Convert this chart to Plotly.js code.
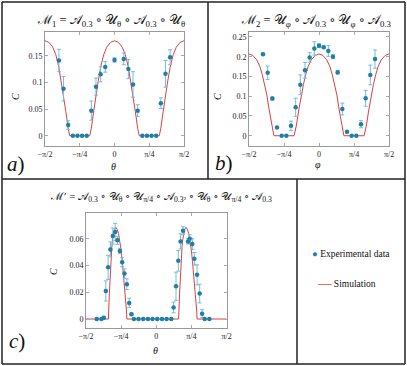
<!DOCTYPE html>
<html>
<head>
<meta charset="utf-8">
<script src="https://cdn.plot.ly/plotly-3.0.1.min.js"></script>
<style>
  body { margin: 0; background: white; }
  #chart { width: 407px; height: 366px; }
</style>
</head>
<body>
<div id="chart"></div>
<script>
// panel a) experimental data (theta in degrees)
var expA_theta = [-72, -66, -60, -54, -48, -42, -36, -30, -24, -18, -12, 0, 12, 18, 24, 30, 36, 42, 48, 54, 60, 66, 72];
var expA_C = [0.141, 0.088, 0.020, 0, 0, 0, 0, 0.047, 0.092, 0.115, 0.129, 0.142, 0.144, 0.125, 0.096, 0.047, 0, 0, 0, 0, 0.061, 0.116, 0.147];
var expA_err = [0.021, 0.023, 0.008, 0, 0, 0, 0, 0.018, 0.016, 0.014, 0.010, 0.004, 0.011, 0.018, 0.024, 0.011, 0, 0, 0, 0, 0.010, 0.025, 0.014];

// panel a) simulation
var simA_theta = [-90, -85, -80, -76, -72, -69, -66, -63, -60, -58, -32, -30, -27, -24, -21, -18, -14, -10, -5, 0, 5, 10, 14, 18, 21, 24, 27, 30, 32, 58, 60, 63, 66, 69, 72, 76, 80, 85, 90];
var simA_C = [0.178, 0.175, 0.166, 0.152, 0.128, 0.103, 0.077, 0.045, 0.014, 0, 0, 0.014, 0.045, 0.077, 0.103, 0.128, 0.152, 0.166, 0.175, 0.178, 0.175, 0.166, 0.152, 0.128, 0.103, 0.077, 0.045, 0.014, 0, 0, 0.014, 0.045, 0.077, 0.103, 0.128, 0.152, 0.166, 0.175, 0.178];

// panel b) experimental data (phi in degrees)
var expB_phi = [-72, -66, -60, -54, -48, -42, -36, -30, -24, -18, -12, -6, 0, 6, 12, 18, 24, 30, 36, 42, 48, 54, 60, 66, 72];
var expB_C = [0.206, 0.1595, 0.094, 0.021, 0, 0, 0.025, 0.072, 0.129, 0.1655, 0.198, 0.221, 0.228, 0.224, 0.2145, 0.2, 0.1605, 0.0676, 0.01, 0, 0, 0.029, 0.0947, 0.1537, 0.194];
var expB_err = [0.003, 0.017, 0.004, 0.002, 0, 0, 0.012, 0.023, 0.025, 0.02, 0.012, 0.017, 0.005, 0.003, 0.0135, 0.005, 0.005, 0.015, 0.003, 0, 0, 0.009, 0.02, 0.025, 0.023];

// panel b) simulation
var simB_phi = [-90, -85, -80, -76, -73, -70, -67, -64, -61, -58, -32, -29, -26, -23, -20, -17, -14, -10, -5, 0, 5, 10, 14, 17, 20, 23, 26, 29, 32, 58, 61, 64, 67, 70, 73, 76, 80, 85, 90];
var simB_C = [0.207, 0.203, 0.192, 0.175, 0.155, 0.13, 0.103, 0.065, 0.027, 0, 0, 0.027, 0.065, 0.103, 0.13, 0.155, 0.175, 0.192, 0.203, 0.207, 0.203, 0.192, 0.175, 0.155, 0.13, 0.103, 0.065, 0.027, 0, 0, 0.027, 0.065, 0.103, 0.13, 0.155, 0.175, 0.192, 0.203, 0.207];

// panel c) experimental data (theta in radians)
var expC_theta = [-1.33, -1.226, -1.173, -1.128, -1.076, -1.025, -0.971, -0.919, -0.868, -0.814, -0.762, -0.711, -0.657, -0.605, -0.554, -0.5,
  -0.397, -0.291, -0.186, -0.083, 0.022, 0.128, 0.231, 0.336,
  0.388, 0.442, 0.493, 0.545, 0.599, 0.711, 0.747, 0.807, 0.852, 0.913, 0.971, 1.025, 1.083, 1.188];
var expC_C = [0, 0, 0.001, 0.021, 0.0386, 0.052, 0.062, 0.065, 0.0588, 0.0508, 0.0424, 0.034, 0.026, 0.012, 0.0035, 0,
  0, 0, 0, 0, 0, 0, 0, 0,
  0.0087, 0.0245, 0.0435, 0.058, 0.066, 0.058, 0.060, 0.056, 0.045, 0.033, 0.019, 0.004, 0, 0];
var expC_err = [0, 0, 0.001, 0.0075, 0.009, 0.0056, 0.006, 0.0065, 0.003, 0.002, 0.0034, 0.0034, 0.004, 0.0035, 0.001, 0,
  0, 0, 0, 0, 0, 0, 0, 0,
  0.004, 0.0105, 0.0077, 0.0056, 0.003, 0.002, 0.003, 0.004, 0.0047, 0.0075, 0.007, 0.003, 0, 0];

// panel c) simulation
var simC_theta = [-1.571, -1.07, -1.05, -1.031, -1.012, -0.993, -0.975, -0.957, -0.93, -0.904, -0.875, -0.845, -0.815, -0.785, -0.76, -0.733, -0.706, -0.679, -0.665, -0.657,
  0.5, 0.52, 0.539, 0.558, 0.577, 0.595, 0.613, 0.64, 0.666, 0.695, 0.725, 0.755, 0.785, 0.81, 0.837, 0.864, 0.891, 0.905, 0.913, 1.571];
var simC_C = [0, 0, 0.018, 0.032, 0.045, 0.054, 0.06, 0.064, 0.067, 0.0685, 0.067, 0.064, 0.058, 0.0516, 0.043, 0.034, 0.024, 0.014, 0.006, 0,
  0, 0.018, 0.032, 0.045, 0.054, 0.06, 0.064, 0.067, 0.0685, 0.067, 0.064, 0.058, 0.0516, 0.043, 0.034, 0.024, 0.014, 0.006, 0, 0];

// tick labels
var xTickVals = [-Math.PI / 2, -Math.PI / 4, 0, Math.PI / 4, Math.PI / 2];
var xTickText = ['−π/2', '−π/4', '0', 'π/4', 'π/2'];
var yTicksA = [0, 0.05, 0.1, 0.15];
var yTicksB = [0, 0.05, 0.1, 0.15, 0.2, 0.25];
var yTicksC = [0, 0.02, 0.04, 0.06];

function rad(arr) {
  return arr.map(function (d) { return d * Math.PI / 180; });
}

var dotColor = '#1f7fa6';
var barColor = '#72bfd9';
var simColor = '#dc4044';
var serif = 'Liberation Serif, DejaVu Serif, serif';

function expTrace(x, y, err, xa, ya) {
  return {
    x: x, y: y, xaxis: xa, yaxis: ya,
    type: 'scatter', mode: 'markers',
    marker: { color: dotColor, size: 4.5 },
    error_y: { type: 'data', array: err, visible: true, color: barColor, thickness: 1, width: 2 },
    showlegend: false
  };
}

function simTrace(x, y, xa, ya) {
  return {
    x: x, y: y, xaxis: xa, yaxis: ya,
    type: 'scatter', mode: 'lines',
    line: { color: simColor, width: 1 },
    showlegend: false
  };
}

var data = [
  simTrace(rad(simA_theta), simA_C, 'x', 'y'),
  expTrace(rad(expA_theta), expA_C, expA_err, 'x', 'y'),
  simTrace(rad(simB_phi), simB_C, 'x2', 'y2'),
  expTrace(rad(expB_phi), expB_C, expB_err, 'x2', 'y2'),
  simTrace(simC_theta, simC_C, 'x3', 'y3'),
  expTrace(expC_theta, expC_C, expC_err, 'x3', 'y3')
];

function xAxis(domain, anchor) {
  return {
    domain: domain, anchor: anchor,
    range: [-Math.PI / 2, Math.PI / 2],
    tickvals: xTickVals, ticktext: xTickText,
    ticks: 'inside', ticklen: 3, tickcolor: '#aaa',
    showline: true, mirror: 'ticks', linecolor: '#999', linewidth: 1,
    showgrid: false, zeroline: false,
    tickfont: { family: serif, size: 8, color: '#222' }
  };
}

function yAxis(domain, anchor, range, ticks) {
  return {
    domain: domain, anchor: anchor, range: range,
    tickvals: ticks, ticktext: ticks.map(String),
    ticks: 'inside', ticklen: 3, tickcolor: '#aaa',
    showline: true, mirror: 'ticks', linecolor: '#999', linewidth: 1,
    showgrid: false, zeroline: false,
    tickfont: { family: serif, size: 8, color: '#222' }
  };
}

var W = 407, H = 366;
function px(v) { return v / W; }
function py(v) { return 1 - v / H; }

function box(x0, y0, x1, y1) {
  return { type: 'line', xref: 'paper', yref: 'paper', x0: px(x0), y0: py(y0), x1: px(x1), y1: py(y1),
    line: { color: '#222', width: 1.5 } };
}

function note(text, x, y, size, extra) {
  var a = { text: text, xref: 'paper', yref: 'paper', x: px(x), y: py(y), showarrow: false,
    xanchor: 'center', yanchor: 'middle', font: { family: serif, size: size, color: '#111' } };
  for (var k in extra) a[k] = extra[k];
  return a;
}

var layout = {
  width: W, height: H,
  margin: { l: 0, r: 0, t: 0, b: 0 },
  paper_bgcolor: 'white',
  plot_bgcolor: 'white',
  showlegend: false,
  xaxis: xAxis([px(45), px(184)], 'y'),
  yaxis: yAxis([py(146), py(32)], 'x', [-0.0193, 0.1944], yTicksA),
  xaxis2: xAxis([px(249), px(389)], 'y2'),
  yaxis2: yAxis([py(146), py(32)], 'x2', [-0.026, 0.2625], yTicksB),
  xaxis3: xAxis([px(86), px(226.5)], 'y3'),
  yaxis3: yAxis([py(328), py(213)], 'x3', [-0.0067, 0.0792], yTicksC),
  shapes: [
    box(2, 2, 405, 2), box(2, 364, 405, 364), box(2, 2, 2, 364), box(405, 2, 405, 364),
    box(208, 2, 208, 179), box(2, 179, 405, 179), box(297, 179, 297, 364)
  ],
  annotations: [
    note('ℳ<sub>1</sub> = 𝒜<sub>0.3</sub> ∘ 𝒰<sub>θ</sub> ∘ 𝒜<sub>0.3</sub> ∘ 𝒰<sub>θ</sub>', 111, 21, 12.5),
    note('ℳ<sub>2</sub> = 𝒰<sub>φ</sub> ∘ 𝒜<sub>0.3</sub> ∘ 𝒰<sub>φ</sub> ∘ 𝒜<sub>0.3</sub>', 316, 21, 12.5),
    note('ℳ′ = 𝒜<sub>0.3</sub> ∘ 𝒰<sub>θ</sub> ∘ 𝒰<sub>π/4</sub> ∘ 𝒜<sub>0.3²</sub> ∘ 𝒰<sub>θ</sub> ∘ 𝒰<sub>π/4</sub> ∘ 𝒜<sub>0.3</sub>', 161, 197, 11),
    // axis titles
    note('<i>C</i>', 16, 97, 10, { textangle: -90 }),
    note('<i>θ</i>', 113, 167, 10),
    note('<i>C</i>', 218, 97, 10, { textangle: -90 }),
    note('<i>φ</i>', 318, 164, 10),
    note('<i>C</i>', 53, 272, 10, { textangle: -90 }),
    note('<i>θ</i>', 155, 350, 10),
    // panel letters
    note('<i>a</i>)', 16, 164, 21),
    note('<i>b</i>)', 224, 163, 21),
    note('<i>c</i>)', 17, 341, 21),
    // legend
    note('<span style="color:' + dotColor + '">●</span> Experimental data', 310, 254, 9.5, { xanchor: 'left' }),
    note('<span style="color:' + simColor + '">──</span> Simulation', 315, 284, 9.5, { xanchor: 'left' })
  ]
};

Plotly.newPlot('chart', data, layout, { staticPlot: true });
</script>
</body>
</html>
